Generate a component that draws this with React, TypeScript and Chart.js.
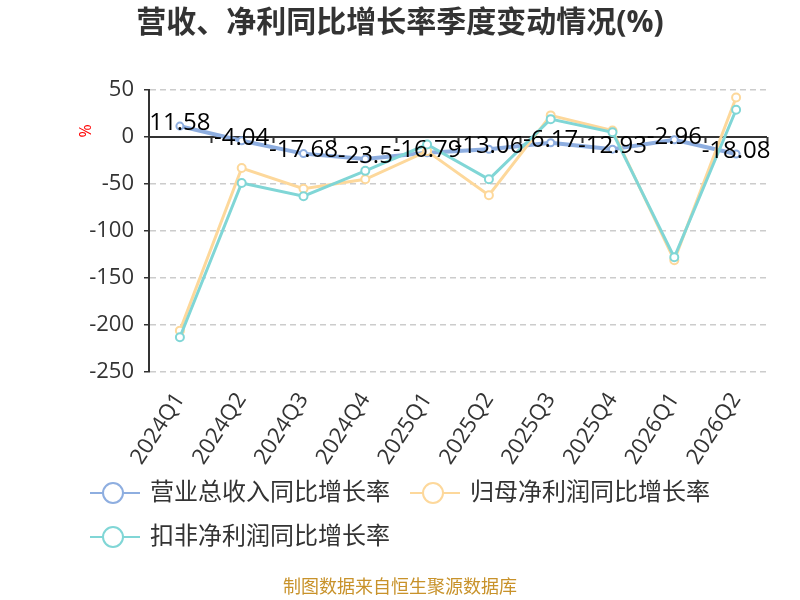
import { useEffect, useRef } from "react";
import { Chart, registerables } from "chart.js";

Chart.register(...registerables);

const CATEGORIES = ["2024Q1", "2024Q2", "2024Q3", "2024Q4", "2025Q1", "2025Q2", "2025Q3", "2025Q4", "2026Q1", "2026Q2"];
const REVENUE_YOY = [11.58, -4.04, -17.68, -23.5, -16.79, -13.06, -6.17, -12.93, -2.96, -18.08];
const NET_PROFIT_YOY = [-206, -33, -55, -45, -15, -62, 23, 7, -131, 42];
const DEDUCTED_YOY = [-213, -49, -63, -36, -8, -45, 19, 5, -128, 29];
const SERIES_NAMES = ["营业总收入同比增长率", "归母净利润同比增长率", "扣非净利润同比增长率"];
const SERIES_COLORS = ["#8eaee0", "#fdd89b", "#80d6d6"];
const Y_MIN = -250;
const Y_MAX = 50;
const Y_STEP = 50;

const TITLE = "营收、净利同比增长率季度变动情况(%)";
const FOOTER = "制图数据来自恒生聚源数据库";
const FONT = '"Open Sans", "Noto Sans CJK SC", sans-serif';

const decorPlugin = {
  id: "decor",
  beforeDatasetsDraw(chart: Chart) {
    const { ctx, chartArea, scales } = chart;
    const y0 = scales.y.getPixelForValue(0);
    const n = CATEGORIES.length;
    const step = (chartArea.right - chartArea.left) / n;
    ctx.save();
    ctx.strokeStyle = "#333";
    ctx.lineWidth = 2;
    ctx.beginPath();
    ctx.moveTo(chartArea.left, y0);
    ctx.lineTo(chartArea.right, y0);
    for (let i = 1; i <= n; i++) {
      const x = Math.round(chartArea.left + i * step) + 0.5;
      ctx.moveTo(x, y0);
      ctx.lineTo(x, y0 + 6);
    }
    ctx.stroke();
    ctx.restore();
  },
  afterDatasetsDraw(chart: Chart) {
    const { ctx } = chart;
    const meta = chart.getDatasetMeta(0);
    ctx.save();
    ctx.font = `24px ${FONT}`;
    ctx.fillStyle = "#000";
    ctx.textAlign = "center";
    ctx.textBaseline = "middle";
    meta.data.forEach((pt, i) => {
      ctx.fillText(String(REVENUE_YOY[i]), pt.x, pt.y - 3);
    });
    ctx.restore();
  },
  afterDraw(chart: Chart) {
    const { ctx } = chart;
    ctx.save();
    // title
    ctx.font = `bold 30px ${FONT}`;
    ctx.fillStyle = "#333";
    ctx.textAlign = "center";
    ctx.textBaseline = "middle";
    ctx.fillText(TITLE, 400, 23);

    // y-axis unit
    ctx.save();
    ctx.translate(86, 131);
    ctx.rotate(-Math.PI / 2);
    ctx.font = `16px ${FONT}`;
    ctx.fillStyle = "#ff0000";
    ctx.fillText("%", 0, 0);
    ctx.restore();

    // legend
    const items = [
      { x: 90, y: 493 },
      { x: 410, y: 493 },
      { x: 90, y: 537 },
    ];
    items.forEach((it, i) => {
      ctx.strokeStyle = SERIES_COLORS[i];
      ctx.lineWidth = 2;
      ctx.beginPath();
      ctx.moveTo(it.x, it.y);
      ctx.lineTo(it.x + 50, it.y);
      ctx.stroke();
      ctx.beginPath();
      ctx.arc(it.x + 23, it.y, 10, 0, Math.PI * 2);
      ctx.fillStyle = "#fff";
      ctx.fill();
      ctx.stroke();
      ctx.font = `24px ${FONT}`;
      ctx.fillStyle = "#333";
      ctx.textAlign = "left";
      ctx.fillText(SERIES_NAMES[i], it.x + 60, it.y);
    });

    // footer
    ctx.font = `18px ${FONT}`;
    ctx.fillStyle = "#c8922a";
    ctx.textAlign = "center";
    ctx.fillText(FOOTER, 400, 588);
    ctx.restore();
  },
};

export default function App() {
  const canvasRef = useRef<HTMLCanvasElement>(null);
  const chartRef = useRef<Chart | null>(null);

  useEffect(() => {
    if (!canvasRef.current) return;
    const ctx = canvasRef.current.getContext("2d");
    if (!ctx) return;
    if (chartRef.current) chartRef.current.destroy();

    const seriesData = [REVENUE_YOY, NET_PROFIT_YOY, DEDUCTED_YOY];
    const orders = [3, 2, 1];

    chartRef.current = new Chart(ctx, {
      type: "line",
      data: {
        labels: CATEGORIES,
        datasets: seriesData.map((d, i) => ({
          label: SERIES_NAMES[i],
          data: d,
          order: orders[i],
          borderColor: SERIES_COLORS[i],
          borderWidth: i === 0 ? 4 : 3,
          pointRadius: i === 0 ? 3.5 : 4,
          pointBorderWidth: 2,
          pointBackgroundColor: "#fff",
          pointBorderColor: SERIES_COLORS[i],
          tension: 0,
        })),
      },
      options: {
        animation: false,
        responsive: false,
        layout: { padding: { top: 90, right: 33, left: 0, bottom: 0 } },
        plugins: {
          legend: { display: false },
          title: { display: false },
          tooltip: { enabled: false },
        },
        scales: {
          x: {
            offset: true,
            grid: { display: false },
            border: { display: false },
            ticks: {
              autoSkip: false,
              minRotation: 57,
              maxRotation: 57,
              padding: 8,
              color: "#333",
              font: { size: 22, family: FONT },
            },
            afterFit(scale: any) {
              scale.height = 228;
            },
          },
          y: {
            min: Y_MIN,
            max: Y_MAX,
            ticks: {
              stepSize: Y_STEP,
              padding: 10,
              color: "#333",
              font: { size: 22, family: FONT },
            },
            grid: {
              color: "#cccccc",
              lineWidth: 1.5,
              tickLength: 5,
              tickColor: "#333",
              tickBorderDash: [],
            },
            border: { color: "#333", width: 2, dash: [6, 4] },
            afterFit(scale: any) {
              scale.width = 149;
            },
          },
        },
      },
      plugins: [decorPlugin],
    });

    return () => {
      chartRef.current?.destroy();
      chartRef.current = null;
    };
  }, []);

  return (
    <div style={{ position: "fixed", left: 0, top: 0, width: 800, height: 600, background: "#fff" }}>
      <canvas ref={canvasRef} width={800} height={600} />
    </div>
  );
}
